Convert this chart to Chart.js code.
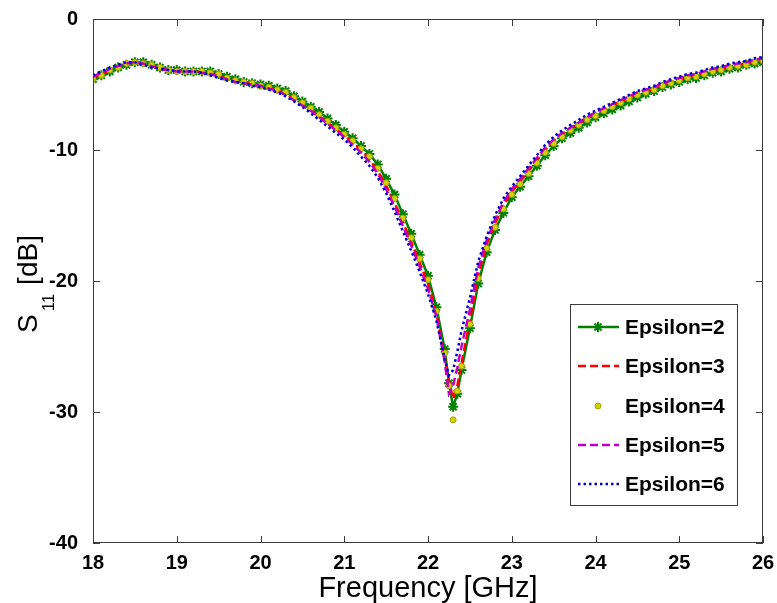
<!DOCTYPE html>
<html>
<head>
<meta charset="utf-8">
<title>S11 vs Frequency</title>
<script src="https://cdn.jsdelivr.net/npm/chart.js@4"></script>
<style>
    html, body { margin: 0; padding: 0; background: #ffffff; }
    canvas { display: block; }
</style>
</head>
<body>
<canvas id="s11Chart" width="777" height="603"></canvas>
<script>
// frequency points (GHz)
const freqs = [
    18.0, 18.1, 18.2, 18.3, 18.4, 18.5, 18.6, 18.7, 18.8, 18.9,
    19.0, 19.1, 19.2, 19.3, 19.4, 19.5, 19.6, 19.7, 19.8, 19.9,
    20.0, 20.1, 20.2, 20.3, 20.4, 20.5, 20.6, 20.7, 20.8, 20.9,
    21.0, 21.1, 21.2, 21.3, 21.4, 21.5, 21.6, 21.7, 21.8, 21.9,
    22.0, 22.1, 22.2, 22.25, 22.3, 22.35, 22.4, 22.5, 22.6, 22.7,
    22.8, 22.9, 23.0, 23.1, 23.2, 23.3, 23.4, 23.5, 23.6, 23.7,
    23.8, 23.9, 24.0, 24.1, 24.2, 24.3, 24.4, 24.5, 24.6, 24.7,
    24.8, 24.9, 25.0, 25.1, 25.2, 25.3, 25.4, 25.5, 25.6, 25.7,
    25.8, 25.9, 26.0
];

// S11 [dB] for each epsilon
const eps2 = [
    -4.6, -4.3, -4.0, -3.7, -3.5, -3.3, -3.3, -3.5, -3.7, -3.9,
    -3.9, -4.0, -4.0, -4.0, -4.0, -4.2, -4.4, -4.6, -4.8, -4.9,
    -5.0, -5.1, -5.3, -5.5, -5.9, -6.3, -6.7, -7.1, -7.6, -8.1,
    -8.6, -9.1, -9.7, -10.3, -11.1, -12.2, -13.4, -14.9, -16.4, -18.0,
    -19.6, -22.0, -25.2, -27.8, -29.6, -28.6, -26.8, -23.6, -20.2, -17.8,
    -16.1, -14.8, -13.6, -12.8, -12.0, -11.2, -10.4, -9.7, -9.1, -8.7,
    -8.3, -7.9, -7.5, -7.2, -6.9, -6.6, -6.3, -6.0, -5.7, -5.5,
    -5.2, -5.0, -4.8, -4.6, -4.5, -4.3, -4.1, -4.0, -3.8, -3.7,
    -3.5, -3.4, -3.3
];
const eps3 = [
    -4.5, -4.2, -3.9, -3.6, -3.4, -3.3, -3.4, -3.6, -3.8, -3.9,
    -4.0, -4.0, -4.0, -4.0, -4.1, -4.3, -4.5, -4.7, -4.8, -5.0,
    -5.1, -5.2, -5.4, -5.7, -6.1, -6.5, -6.9, -7.4, -7.9, -8.4,
    -8.9, -9.4, -10.0, -10.7, -11.6, -12.7, -14.0, -15.5, -17.0, -18.6,
    -20.2, -22.5, -25.8, -27.6, -29.0, -28.0, -26.3, -23.0, -19.5, -17.2,
    -15.6, -14.3, -13.2, -12.4, -11.6, -10.8, -10.0, -9.3, -8.8, -8.4,
    -8.0, -7.6, -7.2, -6.9, -6.6, -6.3, -6.0, -5.7, -5.5, -5.3,
    -5.0, -4.8, -4.6, -4.4, -4.3, -4.1, -3.9, -3.8, -3.6, -3.5,
    -3.4, -3.2, -3.1
];
const eps4 = [
    -4.6, -4.3, -3.9, -3.7, -3.4, -3.3, -3.4, -3.5, -3.7, -3.9,
    -4.0, -4.0, -4.0, -4.0, -4.1, -4.2, -4.5, -4.7, -4.8, -4.9,
    -5.1, -5.2, -5.4, -5.6, -6.0, -6.4, -6.8, -7.3, -7.8, -8.3,
    -8.8, -9.3, -9.9, -10.5, -11.4, -12.5, -13.7, -15.2, -16.7, -18.3,
    -19.9, -22.3, -25.5, -28.0, -30.6, -28.4, -26.5, -23.3, -19.8, -17.5,
    -15.9, -14.5, -13.4, -12.6, -11.8, -11.0, -10.2, -9.5, -9.0, -8.5,
    -8.1, -7.7, -7.4, -7.0, -6.7, -6.4, -6.1, -5.8, -5.6, -5.4,
    -5.1, -4.9, -4.7, -4.5, -4.4, -4.2, -4.0, -3.9, -3.7, -3.6,
    -3.5, -3.3, -3.2
];
const eps5 = [
    -4.4, -4.1, -3.8, -3.6, -3.4, -3.3, -3.4, -3.6, -3.8, -3.9,
    -4.0, -4.0, -4.0, -4.1, -4.2, -4.4, -4.6, -4.8, -4.9, -5.0,
    -5.1, -5.3, -5.5, -5.8, -6.2, -6.6, -7.0, -7.5, -8.0, -8.5,
    -9.0, -9.6, -10.2, -10.9, -11.8, -13.0, -14.3, -15.8, -17.3, -18.9,
    -20.6, -22.7, -26.2, -28.6, -28.0, -26.6, -25.0, -22.2, -19.0, -16.9,
    -15.3, -14.0, -13.0, -12.2, -11.4, -10.6, -9.8, -9.2, -8.7, -8.3,
    -7.9, -7.5, -7.1, -6.8, -6.5, -6.2, -5.9, -5.6, -5.4, -5.2,
    -4.9, -4.7, -4.5, -4.3, -4.2, -4.0, -3.8, -3.7, -3.5, -3.4,
    -3.3, -3.1, -3.0
];
const eps6 = [
    -4.3, -4.0, -3.7, -3.5, -3.3, -3.3, -3.5, -3.7, -3.8, -3.9,
    -4.0, -4.0, -4.0, -4.1, -4.3, -4.5, -4.7, -4.8, -4.9, -5.1,
    -5.2, -5.4, -5.6, -5.9, -6.3, -6.7, -7.2, -7.7, -8.2, -8.7,
    -9.2, -9.8, -10.5, -11.2, -12.1, -13.3, -14.7, -16.2, -17.7, -19.3,
    -21.0, -23.0, -26.0, -27.2, -26.8, -25.4, -23.8, -21.3, -18.5, -16.6,
    -15.0, -13.7, -12.8, -12.0, -11.2, -10.4, -9.6, -9.0, -8.5, -8.1,
    -7.7, -7.3, -7.0, -6.7, -6.4, -6.1, -5.8, -5.5, -5.3, -5.1,
    -4.8, -4.6, -4.4, -4.2, -4.1, -3.9, -3.7, -3.6, -3.4, -3.3,
    -3.2, -3.0, -2.9
];

const seriesNames = ['Epsilon=2', 'Epsilon=3', 'Epsilon=4', 'Epsilon=5', 'Epsilon=6'];
const xTicks = [18, 19, 20, 21, 22, 23, 24, 25, 26];
const yTicks = [0, -10, -20, -30, -40];

const FONT = '"Liberation Sans", Arial, sans-serif';
const GREEN = '#008000';
const RED = '#ff0000';
const YELLOW = '#d2d200';
const MAGENTA = '#c000c0';
const BLUE = '#0000cc';

function toPoints(values) {
    return freqs.map((f, i) => ({ x: f, y: values[i] }));
}

// matlab style frame: box, inward ticks, axis titles and legend
const matlabFrame = {
    id: 'matlabFrame',
    afterDraw(chart) {
        const ctx = chart.ctx;
        const area = chart.chartArea;
        const xs = chart.scales.x;
        const ys = chart.scales.y;
        const tick = 7;

        ctx.save();
        ctx.strokeStyle = '#3c3c3c';
        ctx.lineWidth = 1;
        ctx.strokeRect(area.left + 0.5, area.top + 0.5, area.right - area.left - 1, area.bottom - area.top - 1);

        ctx.beginPath();
        xTicks.forEach(v => {
            const px = Math.round(xs.getPixelForValue(v)) + 0.5;
            ctx.moveTo(px, area.bottom);
            ctx.lineTo(px, area.bottom - tick);
            ctx.moveTo(px, area.top);
            ctx.lineTo(px, area.top + tick);
        });
        yTicks.forEach(v => {
            const py = Math.round(ys.getPixelForValue(v)) + 0.5;
            ctx.moveTo(area.left, py);
            ctx.lineTo(area.left + tick, py);
            ctx.moveTo(area.right, py);
            ctx.lineTo(area.right - tick, py);
        });
        ctx.stroke();

        // x axis title
        ctx.fillStyle = '#000';
        ctx.font = '29px ' + FONT;
        ctx.textAlign = 'center';
        ctx.textBaseline = 'alphabetic';
        ctx.fillText('Frequency [GHz]', (area.left + area.right) / 2, 597);

        // y axis title with subscript
        ctx.save();
        ctx.translate(37, 333);
        ctx.rotate(-Math.PI / 2);
        ctx.textAlign = 'left';
        ctx.font = '28px ' + FONT;
        const sw = ctx.measureText('S').width;
        ctx.fillText('S', 0, 0);
        ctx.font = '17px ' + FONT;
        const subW = ctx.measureText('11').width;
        ctx.fillText('11', sw + 3, 17);
        ctx.font = '28px ' + FONT;
        ctx.fillText(' [dB]', sw + 4 + subW, 0);
        ctx.restore();

        // legend
        const lx = 570, ly = 304, lw = 167, lh = 201;
        ctx.fillStyle = '#fff';
        ctx.fillRect(lx, ly, lw, lh);
        ctx.strokeStyle = '#3c3c3c';
        ctx.strokeRect(lx + 0.5, ly + 0.5, lw, lh);

        const rowY = [327, 366, 406, 445, 484];
        const x0 = 578, x1 = 619, xm = 598;
        chart.data.datasets.forEach((ds, i) => {
            const y = rowY[i];
            ctx.save();
            if (ds.showLine !== false) {
                ctx.strokeStyle = ds.borderColor;
                ctx.lineWidth = ds.borderWidth;
                ctx.setLineDash(ds.borderDash || []);
                ctx.beginPath();
                ctx.moveTo(x0, y);
                ctx.lineTo(x1, y);
                ctx.stroke();
            }
            ctx.setLineDash([]);
            if (ds.pointStyle === 'star') {
                ctx.strokeStyle = ds.pointBorderColor;
                ctx.lineWidth = ds.pointBorderWidth;
                const r = ds.pointRadius;
                ctx.beginPath();
                for (let k = 0; k < 4; k++) {
                    const a = k * Math.PI / 4;
                    ctx.moveTo(xm - r * Math.cos(a), y - r * Math.sin(a));
                    ctx.lineTo(xm + r * Math.cos(a), y + r * Math.sin(a));
                }
                ctx.stroke();
            } else if (ds.pointRadius > 0) {
                ctx.fillStyle = ds.pointBackgroundColor;
                ctx.strokeStyle = ds.pointBorderColor;
                ctx.lineWidth = 1;
                ctx.beginPath();
                ctx.arc(xm, y, ds.pointRadius, 0, Math.PI * 2);
                ctx.fill();
                ctx.stroke();
            }
            ctx.restore();

            ctx.fillStyle = '#000';
            ctx.font = 'bold 21px ' + FONT;
            ctx.textAlign = 'left';
            ctx.textBaseline = 'middle';
            ctx.fillText(ds.label, 625, y + 1);
        });
        ctx.restore();
    }
};

const ctx = document.getElementById('s11Chart').getContext('2d');
const s11Chart = new Chart(ctx, {
    type: 'line',
    data: {
        datasets: [{
            label: seriesNames[0],
            data: toPoints(eps2),
            borderColor: GREEN,
            borderWidth: 2.5,
            pointStyle: 'star',
            pointRadius: 5,
            pointBorderWidth: 2,
            pointBorderColor: GREEN,
            pointBackgroundColor: GREEN,
            tension: 0,
            order: 5
        }, {
            label: seriesNames[1],
            data: toPoints(eps3),
            borderColor: RED,
            borderWidth: 2.5,
            borderDash: [8, 4],
            pointRadius: 0,
            tension: 0,
            order: 4
        }, {
            label: seriesNames[2],
            data: toPoints(eps4),
            showLine: false,
            borderColor: YELLOW,
            pointStyle: 'circle',
            pointRadius: 3,
            pointBorderWidth: 1,
            pointBorderColor: '#a0a000',
            pointBackgroundColor: YELLOW,
            order: 3
        }, {
            label: seriesNames[3],
            data: toPoints(eps5),
            borderColor: MAGENTA,
            borderWidth: 2.5,
            borderDash: [8, 4],
            pointRadius: 0,
            tension: 0,
            order: 2
        }, {
            label: seriesNames[4],
            data: toPoints(eps6),
            borderColor: BLUE,
            borderWidth: 2.5,
            borderDash: [2.5, 3],
            pointRadius: 0,
            tension: 0,
            order: 1
        }]
    },
    options: {
        responsive: false,
        animation: false,
        events: [],
        layout: { padding: { top: 19, right: 14, left: 0, bottom: 0 } },
        plugins: {
            legend: { display: false },
            tooltip: { enabled: false }
        },
        scales: {
            x: {
                type: 'linear',
                min: 18,
                max: 26,
                afterFit: s => { s.height = 60; },
                afterBuildTicks: s => { s.ticks = xTicks.map(v => ({ value: v })); },
                ticks: {
                    color: '#000',
                    font: { family: FONT, size: 20, weight: 'bold' },
                    padding: 0,
                    maxRotation: 0
                },
                grid: { display: false },
                border: { display: false }
            },
            y: {
                min: -40,
                max: 0,
                afterFit: s => { s.width = 93; },
                afterBuildTicks: s => { s.ticks = yTicks.map(v => ({ value: v })); },
                ticks: {
                    color: '#000',
                    font: { family: FONT, size: 20, weight: 'bold' },
                    padding: 7
                },
                grid: { display: false },
                border: { display: false }
            }
        }
    },
    plugins: [matlabFrame]
});
</script>
</body>
</html>
